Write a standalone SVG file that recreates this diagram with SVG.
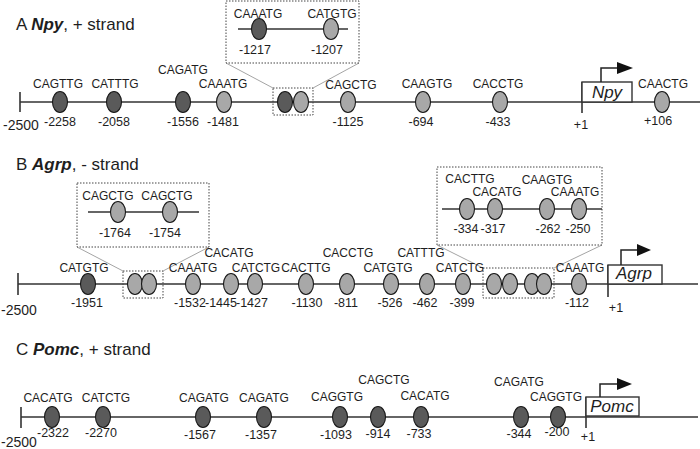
<svg xmlns="http://www.w3.org/2000/svg" width="700" height="449" viewBox="0 0 700 449">
<defs>
<style>
text{font-family:"Liberation Sans",Arial,sans-serif;fill:#1e1e1e}
.t{font-size:12px;text-anchor:middle}
.n{font-size:12.5px;text-anchor:middle}
.ttl{font-size:17px}
.g{font-size:17px;font-style:italic;text-anchor:middle}
.ln{stroke:#333;stroke-width:1.6;fill:none}
.dk{fill:#5a5a5a;stroke:#1a1a1a;stroke-width:1.1}
.lt{fill:#a8a8a8;stroke:#1a1a1a;stroke-width:1.1}
.box{fill:none;stroke:#444;stroke-width:1;stroke-dasharray:1.5 1.5}
.cn{stroke:#9a9a9a;stroke-width:0.9;fill:none}
.gb{fill:#fff;stroke:#333;stroke-width:1.4}
.ar{fill:none;stroke:#222;stroke-width:1.5}
</style>
</defs>

<!-- Panel A -->
<g id="panelA">
<text class="ttl" x="16" y="30">A <tspan font-weight="bold" font-style="italic">Npy</tspan>, + strand</text>
<g id="A-connectors">
<line class="ln" x1="20" y1="102" x2="700" y2="102"/>
<line class="ln" x1="20" y1="92" x2="20" y2="112"/>
<line class="cn" x1="226" y1="63" x2="273" y2="88"/>
<line class="cn" x1="359" y1="63" x2="313" y2="88"/>
<line class="ln" x1="238" y1="29" x2="348" y2="29"/>
</g>
<text class="n" x="21" y="130" style="font-size:14px">-2500</text>
<g id="A-2258"><ellipse class="dk" cx="60" cy="102" rx="7.5" ry="10.5"/><text class="t" x="58" y="88">CAGTTG</text><text class="n" x="60" y="126">-2258</text></g>
<g id="A-2058"><ellipse class="dk" cx="114" cy="102" rx="7.5" ry="10.5"/><text class="t" x="115" y="88">CATTTG</text><text class="n" x="114" y="126">-2058</text></g>
<g id="A-1556"><ellipse class="dk" cx="183" cy="102" rx="7.5" ry="10.5"/><text class="t" x="183" y="74">CAGATG</text><text class="n" x="183" y="126">-1556</text></g>
<g id="A-1481"><ellipse class="lt" cx="224" cy="102" rx="7.5" ry="10.5"/><text class="t" x="223" y="88">CAAATG</text><text class="n" x="223" y="126">-1481</text></g>
<g id="A-cluster"><rect class="box" x="273" y="88" width="40" height="27"/><ellipse class="dk" cx="285" cy="102" rx="7.5" ry="10.5"/><ellipse class="lt" cx="301" cy="102" rx="7.5" ry="10.5"/></g>
<g id="A-inset"><rect class="box" x="226" y="1" width="133" height="62"/>
<ellipse class="dk" cx="259" cy="29" rx="7.5" ry="10.5"/><text class="t" x="258" y="18">CAAATG</text><text class="n" x="255" y="54">-1217</text>
<ellipse class="lt" cx="331" cy="29" rx="7.5" ry="10.5"/><text class="t" x="332" y="18">CATGTG</text><text class="n" x="327" y="54">-1207</text></g>
<g id="A-1125"><ellipse class="lt" cx="348" cy="102" rx="7.5" ry="10.5"/><text class="t" x="351" y="89">CAGCTG</text><text class="n" x="348" y="126">-1125</text></g>
<g id="A-694"><ellipse class="lt" cx="423" cy="102" rx="7.5" ry="10.5"/><text class="t" x="427" y="88">CAAGTG</text><text class="n" x="421" y="126">-694</text></g>
<g id="A-433"><ellipse class="lt" cx="500" cy="102" rx="7.5" ry="10.5"/><text class="t" x="498" y="88">CACCTG</text><text class="n" x="498" y="126">-433</text></g>
<g id="A-gene"><line class="ln" x1="582" y1="82" x2="582" y2="113"/><rect class="gb" x="582" y="82" width="50" height="20"/><polyline class="ar" points="601,82 601,68 618,68"/><polygon points="617,62 633,68 617,74" fill="#111"/><text class="g" x="607" y="98">Npy</text><text class="n" x="581" y="129">+1</text></g>
<g id="A+106"><ellipse class="lt" cx="662" cy="102" rx="7.5" ry="10.5"/><text class="t" x="663" y="88">CAACTG</text><text class="n" x="658" y="125">+106</text></g>
</g>

<!-- Panel B -->
<g id="panelB">
<text class="ttl" x="16" y="170">B <tspan font-weight="bold" font-style="italic">Agrp</tspan>, - strand</text>
<g id="B-connectors">
<line class="ln" x1="18" y1="284" x2="698" y2="284"/>
<line class="ln" x1="18" y1="273" x2="18" y2="295"/>
<line class="cn" x1="77" y1="247" x2="123" y2="271"/>
<line class="cn" x1="209" y1="247" x2="163" y2="271"/>
<line class="cn" x1="437" y1="245" x2="483" y2="268"/>
<line class="cn" x1="602" y1="245" x2="554" y2="268"/>
<line class="ln" x1="88" y1="212" x2="199" y2="212"/>
<line class="ln" x1="442" y1="209" x2="602" y2="209"/>
</g>
<text class="n" x="19" y="315" style="font-size:14px">-2500</text>
<g id="B-1951"><ellipse class="dk" cx="88" cy="284" rx="7.5" ry="10.5"/><text class="t" x="84" y="272">CATGTG</text><text class="n" x="87" y="307">-1951</text></g>
<g id="B-cluster1"><rect class="box" x="123" y="271" width="40" height="27"/><ellipse class="lt" cx="135" cy="284" rx="7.5" ry="10.5"/><ellipse class="lt" cx="149" cy="284" rx="7.5" ry="10.5"/></g>
<g id="B-inset1"><rect class="box" x="77" y="183" width="132" height="64"/>
<ellipse class="lt" cx="118" cy="212" rx="7.5" ry="10.5"/><text class="t" x="108" y="200">CAGCTG</text><text class="n" x="115" y="237">-1764</text>
<ellipse class="lt" cx="170" cy="212" rx="7.5" ry="10.5"/><text class="t" x="167" y="200">CAGCTG</text><text class="n" x="165" y="237">-1754</text></g>
<g id="B-1532"><ellipse class="lt" cx="193" cy="284" rx="7.5" ry="10.5"/><text class="t" x="193" y="272">CAAATG</text><text class="n" x="190" y="307">-1532</text></g>
<g id="B-1445"><ellipse class="lt" cx="231" cy="284" rx="7.5" ry="10.5"/><text class="t" x="229" y="257">CACATG</text><text class="n" x="221" y="307">-1445</text></g>
<g id="B-1427"><ellipse class="lt" cx="255" cy="284" rx="7.5" ry="10.5"/><text class="t" x="256" y="272">CATCTG</text><text class="n" x="252" y="307">-1427</text></g>
<g id="B-1130"><ellipse class="lt" cx="306" cy="284" rx="7.5" ry="10.5"/><text class="t" x="306" y="272">CACTTG</text><text class="n" x="307" y="307">-1130</text></g>
<g id="B-811"><ellipse class="lt" cx="347" cy="284" rx="7.5" ry="10.5"/><text class="t" x="348" y="257">CACCTG</text><text class="n" x="346" y="307">-811</text></g>
<g id="B-526"><ellipse class="lt" cx="391" cy="284" rx="7.5" ry="10.5"/><text class="t" x="388" y="272">CATGTG</text><text class="n" x="390" y="307">-526</text></g>
<g id="B-462"><ellipse class="lt" cx="427" cy="284" rx="7.5" ry="10.5"/><text class="t" x="421" y="257">CATTTG</text><text class="n" x="425" y="307">-462</text></g>
<g id="B-399"><ellipse class="lt" cx="463" cy="284" rx="7.5" ry="10.5"/><text class="t" x="460" y="272">CATCTG</text><text class="n" x="462" y="307">-399</text></g>
<g id="B-cluster2"><rect class="box" x="483" y="268" width="71" height="30"/><ellipse class="lt" cx="494" cy="284" rx="7.5" ry="10.5"/><ellipse class="lt" cx="510" cy="284" rx="7.5" ry="10.5"/><ellipse class="lt" cx="532" cy="284" rx="7.5" ry="10.5"/><ellipse class="lt" cx="544" cy="284" rx="7.5" ry="10.5"/></g>
<g id="B-inset2"><rect class="box" x="437" y="167" width="165" height="78"/>
<ellipse class="lt" cx="467" cy="209" rx="7.5" ry="10.5"/><text class="t" x="470" y="183">CACTTG</text><text class="n" x="466" y="233">-334</text>
<ellipse class="lt" cx="495" cy="209" rx="7.5" ry="10.5"/><text class="t" x="497" y="196">CACATG</text><text class="n" x="493" y="233">-317</text>
<ellipse class="lt" cx="547" cy="209" rx="7.5" ry="10.5"/><text class="t" x="547" y="184">CAAGTG</text><text class="n" x="548" y="233">-262</text>
<ellipse class="lt" cx="579" cy="209" rx="7.5" ry="10.5"/><text class="t" x="575" y="196">CAAATG</text><text class="n" x="578" y="233">-250</text></g>
<g id="B-112"><ellipse class="lt" cx="579" cy="284" rx="7.5" ry="10.5"/><text class="t" x="580" y="272">CAAATG</text><text class="n" x="577" y="307">-112</text></g>
<g id="B-gene"><line class="ln" x1="608" y1="265" x2="608" y2="297"/><rect class="gb" x="608" y="265" width="54" height="19"/><polyline class="ar" points="621,265 621,250 638,250"/><polygon points="637,244 651,250 637,256" fill="#111"/><text class="g" x="634" y="279">Agrp</text><text class="n" x="616" y="312">+1</text></g>
</g>

<!-- Panel C -->
<g id="panelC">
<text class="ttl" x="16" y="355">C <tspan font-weight="bold" font-style="italic">Pomc</tspan>, + strand</text>
<g id="C-connectors">
<line class="ln" x1="21" y1="417" x2="698" y2="417"/>
<line class="ln" x1="21" y1="407" x2="21" y2="428"/>
</g>
<text class="n" x="19" y="447" style="font-size:14px">-2500</text>
<g id="C-2322"><ellipse class="dk" cx="52" cy="417" rx="7.5" ry="10.5"/><text class="t" x="48" y="402">CACATG</text><text class="n" x="53" y="437">-2322</text></g>
<g id="C-2270"><ellipse class="dk" cx="103" cy="417" rx="7.5" ry="10.5"/><text class="t" x="106" y="402">CATCTG</text><text class="n" x="101" y="437">-2270</text></g>
<g id="C-1567"><ellipse class="dk" cx="203" cy="417" rx="7.5" ry="10.5"/><text class="t" x="204" y="402">CAGATG</text><text class="n" x="200" y="439">-1567</text></g>
<g id="C-1357"><ellipse class="dk" cx="264" cy="417" rx="7.5" ry="10.5"/><text class="t" x="264" y="402">CAGATG</text><text class="n" x="261" y="439">-1357</text></g>
<g id="C-1093"><ellipse class="dk" cx="340" cy="417" rx="7.5" ry="10.5"/><text class="t" x="337" y="401">CAGGTG</text><text class="n" x="336" y="439">-1093</text></g>
<g id="C-914"><ellipse class="dk" cx="378" cy="417" rx="7.5" ry="10.5"/><text class="t" x="384" y="384">CAGCTG</text><text class="n" x="378" y="438">-914</text></g>
<g id="C-733"><ellipse class="dk" cx="421" cy="417" rx="7.5" ry="10.5"/><text class="t" x="425" y="400">CACATG</text><text class="n" x="419" y="438">-733</text></g>
<g id="C-344"><ellipse class="dk" cx="521" cy="417" rx="7.5" ry="10.5"/><text class="t" x="519" y="386">CAGATG</text><text class="n" x="519" y="438">-344</text></g>
<g id="C-200"><ellipse class="dk" cx="558" cy="417" rx="7.5" ry="10.5"/><text class="t" x="556" y="401">CAGGTG</text><text class="n" x="557" y="436">-200</text></g>
<g id="C-gene"><line class="ln" x1="586" y1="397" x2="586" y2="428"/><rect class="gb" x="586" y="397" width="53" height="19"/><polyline class="ar" points="600,397 600,384 618,384"/><polygon points="617,378 632,384 617,390" fill="#111"/><text class="g" x="612" y="412">Pomc</text><text class="n" x="588" y="441">+1</text></g>
</g>
</svg>
